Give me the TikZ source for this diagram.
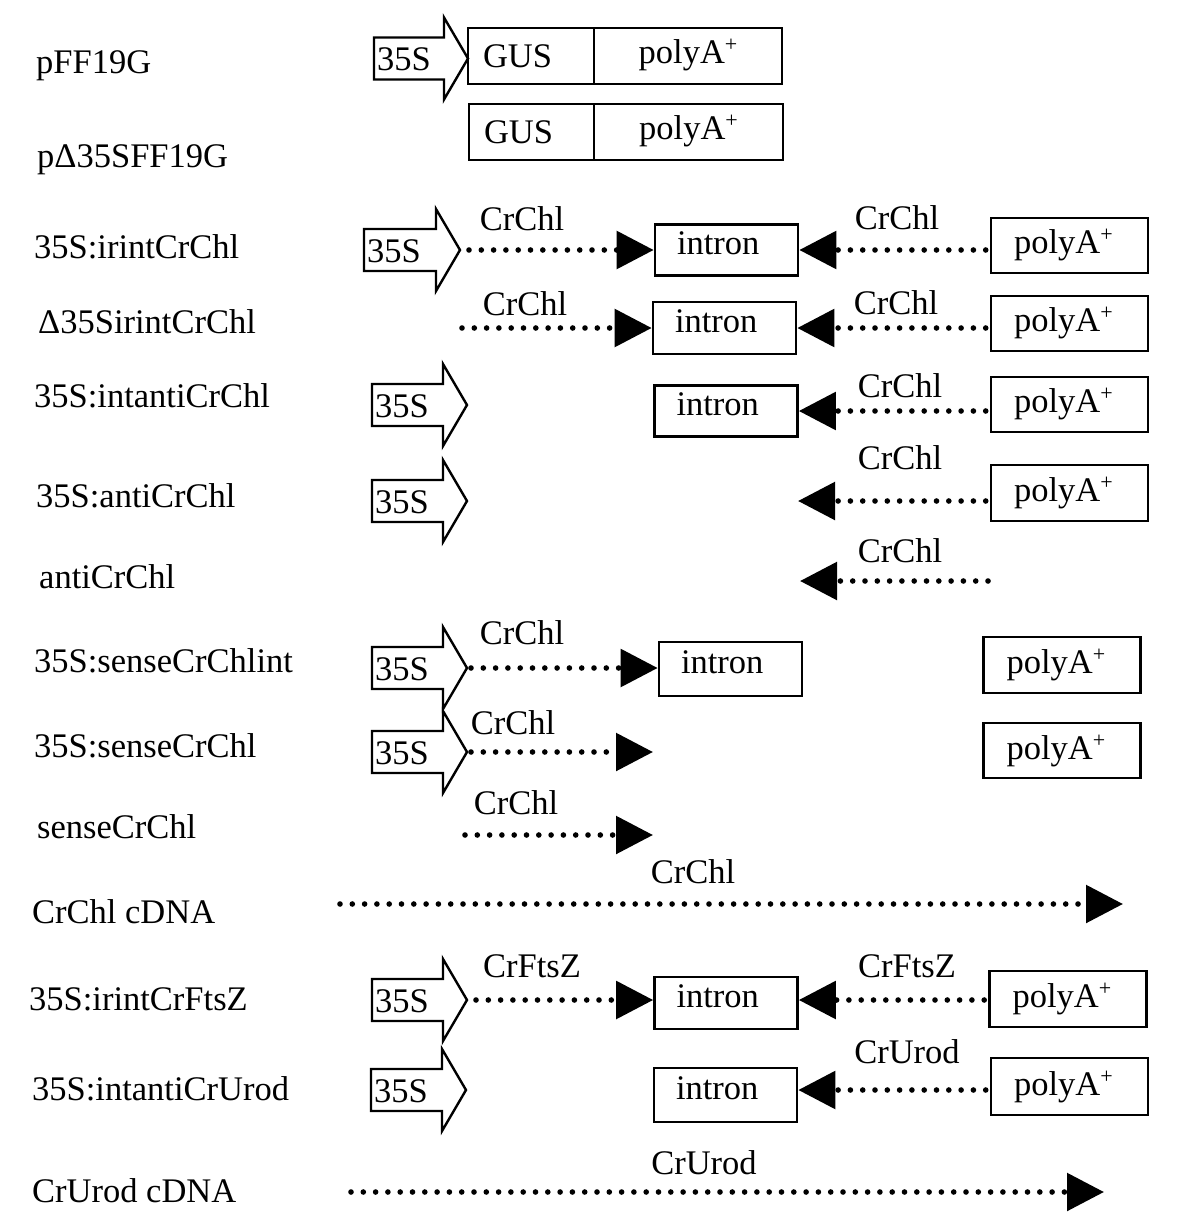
\documentclass[tikz,border=0pt]{standalone}
\usepackage{fontspec}
\setmainfont{Liberation Serif}
\usetikzlibrary{arrows.meta}
\newcommand{\plusup}{\raisebox{12pt}{\fontsize{22}{22}\selectfont +}}
\newcommand{\promo}[4]{%
  \draw[promline] (#2,#4-21) -- (#3-24,#4-21) -- (#3-24,#4-41) -- (#3,#4)
     -- (#3-24,#4+41) -- (#3-24,#4+21) -- (#2,#4+21) -- cycle;
  \node[anchor=west, inner sep=0pt] (#1t) at (#2+3,#4+1) {35S};
  \coordinate (#1) at (#3,#4);}
\tikzset{
  promline/.style={line width=2.4pt, line join=miter},
  box/.style={draw, line width=2.6pt, rectangle, inner sep=0pt},
  intbox/.style={box, minimum height=#1, inner xsep=22pt, align=left,
     text width=99pt, text depth=13pt},
  pabox/.style={box, minimum height=#1, inner xsep=23pt, align=left,
     text width=111pt},
  dotline/.style={line width=5.6pt, line cap=round, dash pattern=on 0pt off 12.3pt,
     -{Triangle[length=37pt, width=37pt]}},
  lab/.style={anchor=base west, inner sep=0pt},
  gene/.style={inner sep=0pt},
}
\begin{document}
\begin{tikzpicture}[x=1pt, y=-1pt, font=\fontsize{34.5}{40}\selectfont]
\useasboundingbox (0,0) rectangle (1200,1228);

% ---------- left labels ----------
\node[lab] (l1)  at (36,74)   {pFF19G};
\node[lab] (l2)  at (37,167)  {p\char"0394 35SFF19G};
\node[lab] (l3)  at (34,258)  {35S:irintCrChl};
\node[lab] (l4)  at (38,333)  {\char"0394 35SirintCrChl};
\node[lab] (l5)  at (34,407)  {35S:intantiCrChl};
\node[lab] (l6)  at (36,507)  {35S:antiCrChl};
\node[lab] (l7)  at (39,588)  {antiCrChl};
\node[lab] (l8)  at (34,672)  {35S:senseCrChlint};
\node[lab] (l9)  at (34,757)  {35S:senseCrChl};
\node[lab] (l10) at (37,838)  {senseCrChl};
\node[lab] (l11) at (32,923)  {CrChl cDNA};
\node[lab] (l12) at (29,1010) {35S:irintCrFtsZ};
\node[lab] (l13) at (32,1100) {35S:intantiCrUrod};
\node[lab] (l14) at (32,1202) {CrUrod cDNA};

% ---------- row 1 ----------
\promo{P1}{374}{468}{58.5}
\node[box, minimum width=126pt, minimum height=56pt, text width=96pt, inner xsep=15pt, align=left] (gus1) at (531,56) {GUS};
\node[box, minimum width=188pt, minimum height=56pt, text depth=9pt] (pa1) at (688,56) {polyA\plusup};

% ---------- row 2 ----------
\node[box, minimum width=125pt, minimum height=56pt, text width=95pt, inner xsep=15pt, align=left] (gus2) at (531.5,132) {GUS};
\node[box, minimum width=189pt, minimum height=56pt, text depth=9pt] (pa2) at (688.5,132) {polyA\plusup};

% ---------- row 3 ----------
\promo{P3}{364}{460}{250}
\node[intbox=51pt] (int3) at (726.5,250) {intron};
\node[pabox=55pt] (pa3) at (1069.5,245.5) {polyA\plusup};
\draw[dotline, shorten <=9pt] (P3) -- (P3 -| int3.west);
\draw[dotline, shorten <=4pt] (int3 -| pa3.west) -- (int3.east);
\node[gene] (g3a) at (522,219) {CrChl};
\node[gene] (g3b) at (897,218) {CrChl};

% ---------- row 4 ----------
\coordinate (s4) at (462,328);
\node[intbox=52pt] (int4) at (724.5,328) {intron};
\node[pabox=55pt] (pa4) at (1069.5,323.5) {polyA\plusup};
\draw[dotline] (s4) -- (s4 -| int4.west);
\draw[dotline, shorten <=4pt] (int4 -| pa4.west) -- (int4.east);
\node[gene] (g4a) at (525,304) {CrChl};
\node[gene] (g4b) at (896,303) {CrChl};

% ---------- row 5 ----------
\promo{P5}{372}{467}{405}
\node[intbox=51pt] (int5) at (726,411) {intron};
\node[pabox=55pt] (pa5) at (1069.5,404.5) {polyA\plusup};
\draw[dotline, shorten <=4pt] (int5 -| pa5.west) -- (int5.east);
\node[gene] (g5) at (900,386) {CrChl};

% ---------- row 6 ----------
\promo{P6}{372}{467}{501}
\coordinate (e6) at (798,501);
\node[pabox=56pt] (pa6) at (1069.5,493) {polyA\plusup};
\draw[dotline, shorten <=4pt] (e6 -| pa6.west) -- (e6);
\node[gene] (g6) at (900,458) {CrChl};

% ---------- row 7 ----------
\coordinate (s7) at (988,581);
\coordinate (e7) at (800,581);
\draw[dotline] (s7) -- (e7);
\node[gene] (g7) at (900,551) {CrChl};

% ---------- row 8 ----------
\promo{P8}{372}{467}{668}
\node[intbox=54pt] (int8) at (730.5,669) {intron};
\node[pabox=56pt] (pa8) at (1062,665) {polyA\plusup};
\draw[dotline, shorten <=4pt] (P8) -- (P8 -| int8.west);
\node[gene] (g8) at (522,633) {CrChl};

% ---------- row 9 ----------
\promo{P9}{372}{467}{752}
\coordinate (e9) at (653,752);
\node[pabox=55pt] (pa9) at (1062,750.5) {polyA\plusup};
\draw[dotline, shorten <=4pt] (P9) -- (e9);
\node[gene] (g9) at (513,723) {CrChl};

% ---------- row 10 ----------
\coordinate (s10) at (465,835);
\coordinate (e10) at (653,835);
\draw[dotline] (s10) -- (e10);
\node[gene] (g10) at (516,803) {CrChl};

% ---------- row 11 ----------
\coordinate (s11) at (340,904);
\coordinate (e11) at (1123,904);
\draw[dotline] (s11) -- (e11);
\node[gene] (g11) at (693,872) {CrChl};

% ---------- row 12 ----------
\promo{P12}{372}{467}{1000}
\node[intbox=52pt] (int12) at (726,1003) {intron};
\node[pabox=56pt] (pa12) at (1068,999) {polyA\plusup};
\draw[dotline, shorten <=9pt] (P12) -- (P12 -| int12.west);
\draw[dotline, shorten <=4pt] (P12 -| pa12.west) -- (P12 -| int12.east);
\node[gene] (g12a) at (532,966) {CrFtsZ};
\node[gene] (g12b) at (907,966) {CrFtsZ};

% ---------- row 13 ----------
\promo{P13}{371}{466}{1090}
\node[intbox=54pt] (int13) at (725.5,1095) {intron};
\node[pabox=57pt] (pa13) at (1069.5,1086.5) {polyA\plusup};
\draw[dotline, shorten <=4pt] (P13 -| pa13.west) -- (P13 -| int13.east);
\node[gene] (g13) at (907,1052) {CrUrod};

% ---------- row 14 ----------
\coordinate (s14) at (351,1192);
\coordinate (e14) at (1104,1192);
\draw[dotline] (s14) -- (e14);
\node[gene] (g14) at (704,1163) {CrUrod};
\end{tikzpicture}
\end{document}
